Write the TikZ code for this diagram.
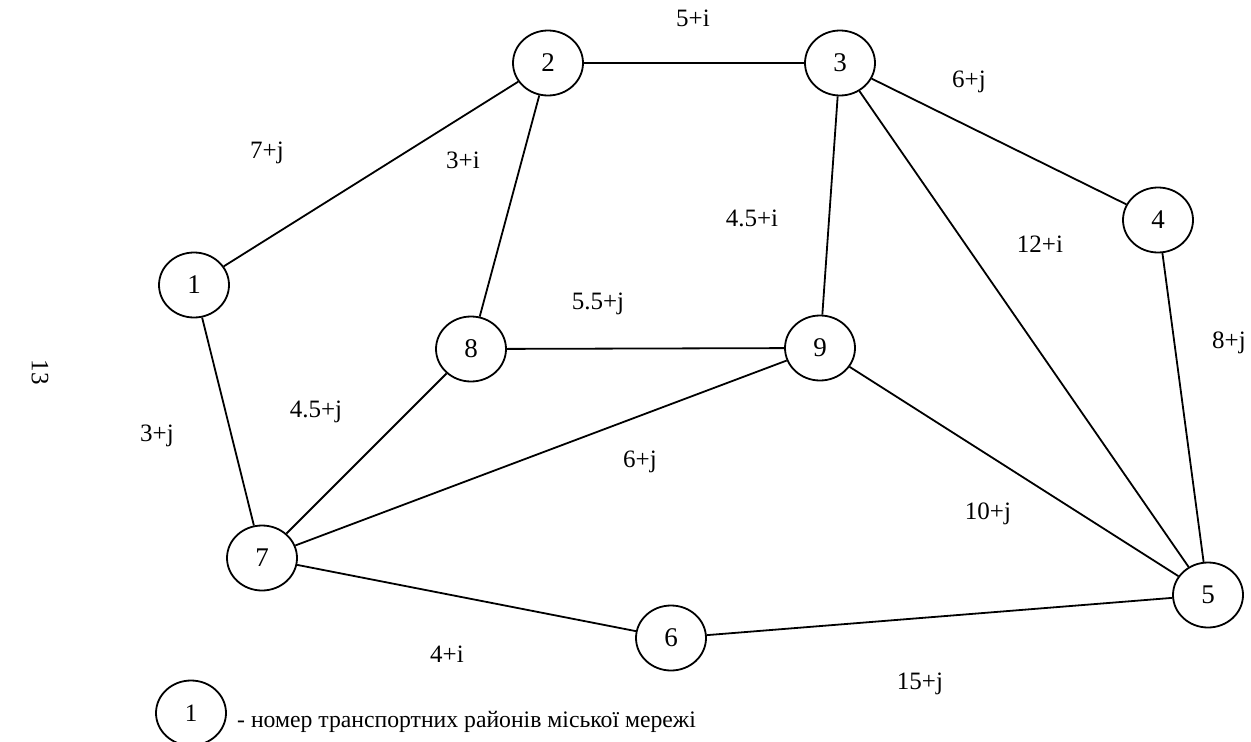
\documentclass[tikz,border=0pt]{standalone}
\usepackage{fontspec}
\setmainfont{Liberation Serif}
\usetikzlibrary{shapes.geometric}
\begin{document}
\begin{tikzpicture}[x=1pt,y=-1pt,
  zone/.style={draw, ellipse, line width=1.8pt, minimum width=70pt, minimum height=65pt, inner sep=0pt, font=\fontsize{27}{30}\selectfont},
  edge/.style={line width=1.8pt},
  lbl/.style={font=\fontsize{25}{28}\selectfont, inner sep=0pt}]
\useasboundingbox (0,0) rectangle (1251,742);
% nodes
\node[zone] (n1) at (194,285) {1};
\node[zone] (n2) at (548,63) {2};
\node[zone] (n3) at (840,63) {3};
\node[zone] (n4) at (1158,220) {4};
\node[zone] (n5) at (1208,595) {5};
\node[zone] (n6) at (671,638) {6};
\node[zone] (n7) at (262,558) {7};
\node[zone] (n8) at (471,349) {8};
\node[zone] (n9) at (820,348) {9};
% edges
\draw[edge] (n1) -- (n2);
\draw[edge] (n2) -- (n3);
\draw[edge] (n3) -- (n4);
\draw[edge] (n3) -- (n9);
\draw[edge] (n3) -- (n5);
\draw[edge] (n2) -- (n8);
\draw[edge] (n1) -- (n7);
\draw[edge] (n8) -- (n9);
\draw[edge] (n8) -- (n7);
\draw[edge] (n7) -- (n9);
\draw[edge] (n7) -- (n6);
\draw[edge] (n6) -- (n5);
\draw[edge] (n9) -- (n5);
\draw[edge] (n4) -- (n5);
% edge labels
\node[lbl] (l23) at (693,18) {5+i};
\node[lbl] (l34) at (969,82) {6+j};
\node[lbl] (l12) at (267,153) {7+j};
\node[lbl] (l28) at (463,160) {3+i};
\node[lbl] (l39) at (752,218) {4.5+i};
\node[lbl] (l35) at (1040,244) {12+i};
\node[lbl] (l45) at (1229,343) {8+j};
\node[lbl] (l89) at (598,304) {5.5+j};
\node[lbl] (l78) at (316,412) {4.5+j};
\node[lbl] (l17) at (157,436) {3+j};
\node[lbl] (l79) at (640,462) {6+j};
\node[lbl] (l95) at (988,514) {10+j};
\node[lbl] (l76) at (447,654) {4+i};
\node[lbl] (l65) at (920,684) {15+j};
% page number
\node[lbl, rotate=-90] (pg) at (40,372) {13};
% legend
\node[zone, font=\fontsize{25}{28}\selectfont] (leg) at (191,713) {1};
\node[lbl, anchor=base west, font=\fontsize{23.7}{27}\selectfont] (legtxt) at (237,727) {- номер транспортних районів міської мережі};
\end{tikzpicture}
\end{document}
